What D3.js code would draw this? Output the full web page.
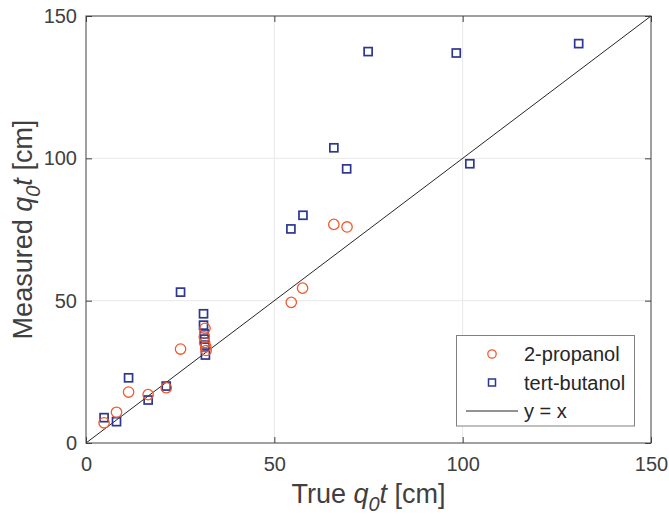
<!DOCTYPE html>
<html>
<head>
<meta charset="utf-8">
<script src="https://cdn.jsdelivr.net/npm/d3@7"></script>
<style>
  html, body { margin: 0; padding: 0; background: #fff; }
  svg { display: block; font-family: "Liberation Sans", Arial, Helvetica, sans-serif; }
</style>
</head>
<body>
<svg id="chart" width="669" height="515"></svg>
<script>
// True vs measured q0·t values [cm]
const propanolTrue     = [4.8, 8.1, 11.3, 16.5, 21.3, 25.1, 31.6, 31.4, 31.5, 31.8, 31.9, 54.5, 57.5, 65.8, 69.3];
const propanolMeasured = [7.1, 10.8, 17.9, 17.0, 19.4, 33.0, 40.3, 37.3, 35.3, 33.8, 32.5, 49.4, 54.4, 76.8, 75.9];

const butanolTrue     = [4.8, 8.1, 11.3, 16.5, 21.3, 25.1, 31.2, 31.2, 31.4, 31.5, 31.6, 31.7, 54.4, 57.6, 65.8, 69.2, 74.9, 98.3, 101.9, 130.8];
const butanolMeasured = [8.9, 7.5, 22.9, 15.1, 20.0, 53.0, 45.4, 41.4, 38.3, 36.5, 34.4, 30.9, 75.2, 80.0, 103.7, 96.3, 137.5, 137.0, 98.1, 140.3];

const xTicks = [0, 50, 100, 150];
const yTicks = [0, 50, 100, 150];
const seriesNames = ["2-propanol", "tert-butanol", "y = x"];

const colProp = "#f15a2b";
const colBut = "#2b3790";
const axisCol = "#404040";
const textCol = "#404040";
const gridCol = "#e8e8e8";

const svg = d3.select("#chart");
const L = 86, R = 651, T = 16, B = 443;

const x = d3.scaleLinear().domain([0, 150]).range([L, R]);
const y = d3.scaleLinear().domain([0, 150]).range([B, T]);

svg.append("rect").attr("width", 669).attr("height", 515).attr("fill", "#fff");

// grid
const grid = svg.append("g");
grid.selectAll(".gx").data(xTicks.slice(1, -1)).join("line")
  .attr("x1", d => x(d)).attr("x2", d => x(d)).attr("y1", T).attr("y2", B)
  .attr("stroke", gridCol).attr("stroke-width", 1);
grid.selectAll(".gy").data(yTicks.slice(1, -1)).join("line")
  .attr("y1", d => y(d)).attr("y2", d => y(d)).attr("x1", L).attr("x2", R)
  .attr("stroke", gridCol).attr("stroke-width", 1);

// axes (inward ticks on all four sides)
const tl = 6;
const xAxisB = d3.axisBottom(x).tickValues(xTicks).tickSize(-tl).tickPadding(14).tickFormat(d3.format("d"));
const xAxisT = d3.axisTop(x).tickValues(xTicks).tickSize(-tl).tickFormat("");
const yAxisL = d3.axisLeft(y).tickValues(yTicks).tickSize(-tl).tickPadding(9).tickFormat(d3.format("d"));
const yAxisR = d3.axisRight(y).tickValues(yTicks).tickSize(-tl).tickFormat("");

function style(g) {
  g.select(".domain").remove();
  g.selectAll(".tick line").attr("stroke", axisCol);
  g.selectAll(".tick text").attr("fill", textCol).attr("font-size", 20)
    .attr("font-family", "Liberation Sans, Arial, sans-serif");
}
svg.append("g").attr("transform", `translate(0,${B})`).call(xAxisB).call(style);
svg.append("g").attr("transform", `translate(0,${T})`).call(xAxisT).call(style);
svg.append("g").attr("transform", `translate(${L},0)`).call(yAxisL).call(style);
svg.append("g").attr("transform", `translate(${R},0)`).call(yAxisR).call(style);

// y = x reference line
const lineGen = d3.line().x(d => x(d)).y(d => y(d));
svg.append("path").datum([0, 150]).attr("d", lineGen)
  .attr("stroke", "#262626").attr("stroke-width", 1).attr("fill", "none");

// tert-butanol squares
const sq = 8;
svg.append("g").selectAll("rect").data(butanolTrue.map((v, i) => [v, butanolMeasured[i]])).join("rect")
  .attr("x", d => x(d[0]) - sq / 2).attr("y", d => y(d[1]) - sq / 2)
  .attr("width", sq).attr("height", sq)
  .attr("fill", "none").attr("stroke", colBut).attr("stroke-width", 1.7);

// 2-propanol circles
svg.append("g").selectAll("circle").data(propanolTrue.map((v, i) => [v, propanolMeasured[i]])).join("circle")
  .attr("cx", d => x(d[0])).attr("cy", d => y(d[1])).attr("r", 5.2)
  .attr("fill", "none").attr("stroke", colProp).attr("stroke-width", 1.3);

// plot box
svg.append("rect").attr("x", L).attr("y", T).attr("width", R - L).attr("height", B - T)
  .attr("fill", "none").attr("stroke", axisCol).attr("stroke-width", 1);

// axis labels
const xl = svg.append("text").attr("x", (L + R) / 2).attr("y", 503)
  .attr("text-anchor", "middle").attr("font-size", 27).attr("fill", textCol);
xl.append("tspan").text("True ");
xl.append("tspan").attr("font-style", "italic").text("q");
xl.append("tspan").attr("font-style", "italic").attr("font-size", 20).attr("dy", 8).text("0");
xl.append("tspan").attr("font-style", "italic").attr("dy", -8).text("t");
xl.append("tspan").text(" [cm]");

const yl = svg.append("text")
  .attr("transform", `translate(32,${(T + B) / 2}) rotate(-90)`)
  .attr("text-anchor", "middle").attr("font-size", 27).attr("fill", textCol);
yl.append("tspan").text("Measured ");
yl.append("tspan").attr("font-style", "italic").text("q");
yl.append("tspan").attr("font-style", "italic").attr("font-size", 20).attr("dy", 8).text("0");
yl.append("tspan").attr("font-style", "italic").attr("dy", -8).text("t");
yl.append("tspan").text(" [cm]");

// legend
const lg = svg.append("g");
lg.append("rect").attr("x", 456.5).attr("y", 335.5).attr("width", 178).attr("height", 90.5)
  .attr("fill", "#fff").attr("stroke", "#808080").attr("stroke-width", 1);
const rows = [354, 382.5, 411];
lg.append("circle").attr("cx", 492).attr("cy", rows[0]).attr("r", 4.2)
  .attr("fill", "none").attr("stroke", colProp).attr("stroke-width", 1.3);
lg.append("rect").attr("x", 492 - 3.5).attr("y", rows[1] - 3.5).attr("width", 7).attr("height", 7)
  .attr("fill", "none").attr("stroke", colBut).attr("stroke-width", 1.5);
lg.append("line").attr("x1", 466).attr("x2", 518).attr("y1", rows[2]).attr("y2", rows[2])
  .attr("stroke", "#262626").attr("stroke-width", 1);
lg.selectAll("text.lt").data(seriesNames).join("text")
  .attr("x", 524).attr("y", (d, i) => rows[i] + 7)
  .attr("font-size", 20).attr("fill", "#262626").text(d => d);
</script>
</body>
</html>
